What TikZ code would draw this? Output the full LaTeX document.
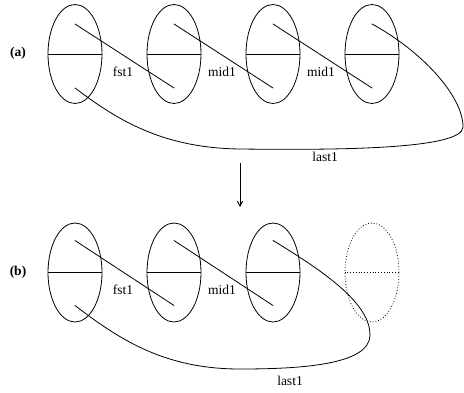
\documentclass[tikz,border=0pt]{standalone}
\usepackage{fontspec}
\setmainfont{Liberation Serif}
\usepackage{tikz}
\usetikzlibrary{arrows.meta,shapes.geometric,calc}
\tikzset{
    celula/.style={
        ellipse,
        draw,
        inner sep=0pt,
        minimum width=54pt,
        minimum height=99pt
    },
    celulaVazia/.style={celula, dotted},
    ponteiro/.style={line cap=round},
    rotulo/.style={font=\fontsize{13.5}{15}\selectfont, inner sep=1pt},
    parte/.style={font=\fontsize{13.5}{15}\selectfont\bfseries}
}

\begin{document}
\begin{tikzpicture}[x=1pt, y=-1pt, line width=0.8pt]
    \useasboundingbox (0,0) rectangle (464,392);

    % lista (a)
    \node[parte] (la) at (18,53) {(a)};
    \foreach \i/\x in {1/75,2/174,3/273,4/372} {
        \node[celula] (a\i) at (\x,54) {};
        \draw (a\i.west) -- (a\i.east);
        \coordinate (a\i cima) at ($(a\i)+(0,-30)$);
        \coordinate (a\i baixo) at ($(a\i)+(0,34)$);
    }
    \draw[ponteiro] (a1cima) -- (a2baixo);
    \draw[ponteiro] (a2cima) -- (a3baixo);
    \draw[ponteiro] (a3cima) -- (a4baixo);
    \draw[ponteiro] (a4cima) .. controls (420,50) and (463,95) .. (463,127)
        .. controls (463,150) and (330,150) .. (240,149)
        .. controls (160,148) and (115,118) .. (a1baixo);
    \node[rotulo] (fa) at (123,72) {fst1};
    \node[rotulo] (ma) at (222,72) {mid1};
    \node[rotulo] (mb) at (321,72) {mid1};
    \node[rotulo] (ua) at (325,157) {last1};

    % seta entre (a) e (b)
    \coordinate (sa) at (240,163);
    \coordinate (sb) at (240,207);
    \draw[-{Straight Barb[length=5pt, width=5pt]}] (sa) -- (sb);

    % lista (b)
    \node[parte] (lb) at (18,272) {(b)};
    \foreach \i/\x in {1/75,2/174,3/273} {
        \node[celula] (b\i) at (\x,272.5) {};
        \draw (b\i.west) -- (b\i.east);
        \coordinate (b\i cima) at ($(b\i)+(0,-32)$);
        \coordinate (b\i baixo) at ($(b\i)+(0,33)$);
    }
    \node[celulaVazia] (b4) at (372,272.5) {};
    \draw[dotted] (b4.west) -- (b4.east);
    \draw[ponteiro] (b1cima) -- (b2baixo);
    \draw[ponteiro] (b2cima) -- (b3baixo);
    \draw[ponteiro] (b3cima) .. controls (330,275) and (370,305) .. (370,335)
        .. controls (370,365) and (300,369) .. (240,369)
        .. controls (165,369) and (120,340) .. (b1baixo);
    \node[rotulo] (fb) at (123,290) {fst1};
    \node[rotulo] (mc) at (222,290) {mid1};
    \node[rotulo] (ub) at (290,381) {last1};
\end{tikzpicture}
\end{document}
